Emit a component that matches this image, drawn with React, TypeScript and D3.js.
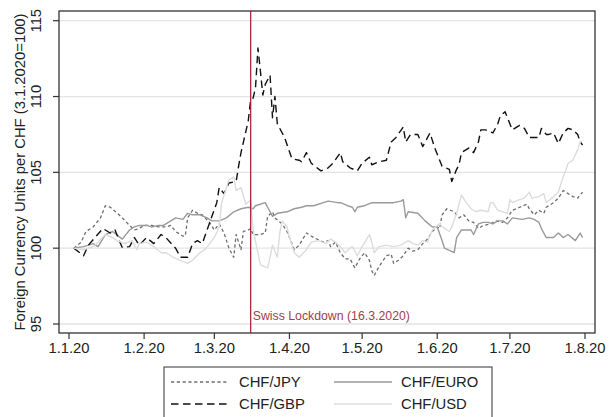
import React from "react";
import * as d3 from "d3";

// ---------- DATA ----------
const X_TICK_DATES = ["2020-01-01", "2020-02-01", "2020-03-01", "2020-04-01", "2020-05-01", "2020-06-01", "2020-07-01", "2020-08-01"];
const X_TICK_LABELS = ["1.1.20", "1.2.20", "1.3.20", "1.4.20", "1.5.20", "1.6.20", "1.7.20", "1.8.20"];
const Y_TICKS = [95, 100, 105, 110, 115];
const Y_TITLE = "Foreign Currency Units per CHF (3.1.2020=100)";
const LOCKDOWN_DATE = "2020-03-16";
const LOCKDOWN_LABEL = "Swiss Lockdown (16.3.2020)";

const CHF_JPY: [string, number][] = [
  ["2020-01-03", 100], ["2020-01-06", 100.4], ["2020-01-08", 101.1], ["2020-01-11", 101.4], ["2020-01-14", 102.0],
  ["2020-01-16", 102.8], ["2020-01-18", 102.7], ["2020-01-21", 102.3], ["2020-01-23", 102.0], ["2020-01-26", 101.5],
  ["2020-01-28", 101.2], ["2020-01-30", 101.3], ["2020-02-01", 101.5], ["2020-02-04", 101.5], ["2020-02-07", 101.4],
  ["2020-02-10", 101.4], ["2020-02-12", 101.5], ["2020-02-14", 101.1], ["2020-02-17", 100.8], ["2020-02-18", 100.8],
  ["2020-02-19", 102.0], ["2020-02-21", 102.5], ["2020-02-23", 102.3], ["2020-02-25", 102.2], ["2020-02-28", 101.7],
  ["2020-03-01", 101.2], ["2020-03-03", 101.6], ["2020-03-05", 101.0], ["2020-03-07", 100.0], ["2020-03-09", 99.4],
  ["2020-03-10", 100.9], ["2020-03-12", 99.9], ["2020-03-13", 101.1], ["2020-03-15", 101.2], ["2020-03-16", 101.3],
  ["2020-03-17", 100.9], ["2020-03-20", 100.9], ["2020-03-22", 101.0], ["2020-03-23", 102.1], ["2020-03-25", 102.4],
  ["2020-03-26", 102.0], ["2020-03-29", 101.6], ["2020-03-31", 101.1], ["2020-04-03", 99.9], ["2020-04-05", 100.2],
  ["2020-04-08", 101.0], ["2020-04-11", 100.7], ["2020-04-15", 100.4], ["2020-04-17", 100.5], ["2020-04-18", 100.1],
  ["2020-04-20", 100.4], ["2020-04-22", 99.7], ["2020-04-24", 99.3], ["2020-04-26", 99.3], ["2020-04-28", 98.7],
  ["2020-04-30", 99.3], ["2020-05-02", 99.7], ["2020-05-04", 99.2], ["2020-05-05", 98.5], ["2020-05-06", 98.2],
  ["2020-05-08", 98.8], ["2020-05-11", 99.5], ["2020-05-13", 99.6], ["2020-05-14", 99.0], ["2020-05-16", 99.2],
  ["2020-05-18", 99.5], ["2020-05-20", 100.0], ["2020-05-22", 99.8], ["2020-05-24", 99.9], ["2020-05-26", 100.3],
  ["2020-05-28", 100.6], ["2020-05-30", 101.1], ["2020-06-01", 101.4], ["2020-06-02", 101.3], ["2020-06-03", 102.2],
  ["2020-06-05", 102.6], ["2020-06-08", 102.4], ["2020-06-10", 102.0], ["2020-06-12", 102.2], ["2020-06-14", 101.8],
  ["2020-06-16", 101.7], ["2020-06-18", 101.3], ["2020-06-20", 101.5], ["2020-06-23", 101.6], ["2020-06-25", 101.8],
  ["2020-06-28", 101.7], ["2020-06-30", 102.0], ["2020-07-02", 102.5], ["2020-07-05", 102.7], ["2020-07-08", 102.9],
  ["2020-07-09", 102.6], ["2020-07-11", 102.2], ["2020-07-13", 102.5], ["2020-07-15", 102.3], ["2020-07-16", 102.7],
  ["2020-07-19", 103.0], ["2020-07-21", 103.3], ["2020-07-23", 103.8], ["2020-07-25", 103.6], ["2020-07-27", 103.4],
  ["2020-07-29", 103.3], ["2020-07-31", 103.7],
];

const CHF_EURO: [string, number][] = [
  ["2020-01-03", 100], ["2020-01-07", 100.1], ["2020-01-11", 100.3], ["2020-01-13", 100.1], ["2020-01-16", 100.9],
  ["2020-01-19", 101.1], ["2020-01-23", 100.6], ["2020-01-26", 101.2], ["2020-01-28", 101.4], ["2020-01-30", 101.5],
  ["2020-02-02", 101.5], ["2020-02-04", 101.4], ["2020-02-07", 101.5], ["2020-02-09", 101.5], ["2020-02-12", 101.8],
  ["2020-02-14", 102.0], ["2020-02-17", 101.9], ["2020-02-19", 102.3], ["2020-02-21", 102.2], ["2020-02-24", 102.2],
  ["2020-02-27", 102.0], ["2020-02-29", 101.8], ["2020-03-03", 101.8], ["2020-03-06", 102.0], ["2020-03-09", 102.4],
  ["2020-03-12", 102.6], ["2020-03-15", 102.7], ["2020-03-17", 102.6], ["2020-03-18", 102.8], ["2020-03-22", 103.0],
  ["2020-03-23", 102.7], ["2020-03-25", 102.1], ["2020-03-27", 102.3], ["2020-03-31", 102.4], ["2020-04-03", 102.6],
  ["2020-04-06", 102.7], ["2020-04-08", 102.8], ["2020-04-11", 102.8], ["2020-04-15", 103.0], ["2020-04-17", 103.1],
  ["2020-04-21", 103.0], ["2020-04-22", 103.0], ["2020-04-25", 102.8], ["2020-04-27", 102.7], ["2020-04-28", 102.4],
  ["2020-04-29", 102.7], ["2020-05-02", 102.8], ["2020-05-05", 103.0], ["2020-05-08", 103.0], ["2020-05-11", 103.0],
  ["2020-05-14", 103.0], ["2020-05-17", 103.1], ["2020-05-18", 103.2], ["2020-05-19", 102.0], ["2020-05-20", 102.4],
  ["2020-05-24", 102.3], ["2020-05-27", 101.8], ["2020-05-30", 101.4], ["2020-06-01", 101.4], ["2020-06-03", 100.5],
  ["2020-06-04", 100.0], ["2020-06-08", 99.7], ["2020-06-09", 100.7], ["2020-06-11", 101.2], ["2020-06-15", 101.2],
  ["2020-06-16", 100.9], ["2020-06-18", 101.6], ["2020-06-20", 101.7], ["2020-06-22", 101.7], ["2020-06-24", 101.6],
  ["2020-06-26", 101.8], ["2020-06-28", 101.8], ["2020-06-30", 101.6], ["2020-07-02", 102.0], ["2020-07-06", 101.9],
  ["2020-07-09", 102.0], ["2020-07-11", 101.9], ["2020-07-13", 101.7], ["2020-07-14", 101.3], ["2020-07-16", 100.7],
  ["2020-07-19", 100.7], ["2020-07-21", 101.0], ["2020-07-23", 100.7], ["2020-07-25", 100.9], ["2020-07-28", 100.5],
  ["2020-07-30", 101.0], ["2020-07-31", 100.7],
];

const CHF_GBP: [string, number][] = [
  ["2020-01-03", 100], ["2020-01-07", 99.5], ["2020-01-09", 100.2], ["2020-01-15", 101.3], ["2020-01-18", 101.0],
  ["2020-01-20", 101.2], ["2020-01-22", 100.4], ["2020-01-23", 100.05], ["2020-01-26", 100.1], ["2020-01-28", 100.7],
  ["2020-01-30", 100.2], ["2020-02-02", 100.7], ["2020-02-05", 100.3], ["2020-02-08", 100.9], ["2020-02-10", 100.7],
  ["2020-02-14", 100.0], ["2020-02-16", 99.4], ["2020-02-19", 99.4], ["2020-02-21", 100.3], ["2020-02-23", 100.5],
  ["2020-02-25", 100.3], ["2020-02-27", 101.2], ["2020-02-29", 102.1], ["2020-03-02", 103.0], ["2020-03-03", 104.0],
  ["2020-03-05", 103.6], ["2020-03-07", 104.3], ["2020-03-10", 104.4], ["2020-03-11", 105.4], ["2020-03-12", 106.3],
  ["2020-03-15", 108.4], ["2020-03-16", 109.8], ["2020-03-17", 109.9], ["2020-03-18", 110.6], ["2020-03-19", 113.2],
  ["2020-03-20", 111.7], ["2020-03-21", 110.1], ["2020-03-22", 110.8], ["2020-03-24", 111.4], ["2020-03-25", 108.6],
  ["2020-03-26", 110.0], ["2020-03-27", 108.2], ["2020-03-30", 107.3], ["2020-04-02", 105.9], ["2020-04-05", 105.8],
  ["2020-04-06", 105.7], ["2020-04-08", 106.3], ["2020-04-10", 105.6], ["2020-04-14", 105.1], ["2020-04-17", 105.3],
  ["2020-04-19", 105.6], ["2020-04-22", 106.3], ["2020-04-23", 105.7], ["2020-04-26", 105.3], ["2020-04-29", 105.1],
  ["2020-05-01", 105.6], ["2020-05-04", 106.0], ["2020-05-05", 105.5], ["2020-05-08", 105.7], ["2020-05-11", 105.8],
  ["2020-05-13", 107.0], ["2020-05-15", 107.3], ["2020-05-18", 108.0], ["2020-05-19", 107.0], ["2020-05-21", 107.5],
  ["2020-05-24", 107.5], ["2020-05-26", 106.7], ["2020-05-29", 107.6], ["2020-05-31", 106.6], ["2020-06-02", 105.8],
  ["2020-06-03", 105.4], ["2020-06-06", 105.2], ["2020-06-07", 104.4], ["2020-06-09", 105.2], ["2020-06-10", 105.5],
  ["2020-06-11", 106.3], ["2020-06-14", 106.6], ["2020-06-16", 106.3], ["2020-06-18", 107.0], ["2020-06-19", 107.8],
  ["2020-06-21", 107.8], ["2020-06-24", 107.6], ["2020-06-26", 108.2], ["2020-06-27", 108.7], ["2020-06-29", 109.0],
  ["2020-06-30", 108.6], ["2020-07-02", 107.8], ["2020-07-05", 108.1], ["2020-07-07", 107.9], ["2020-07-09", 107.3],
  ["2020-07-11", 107.3], ["2020-07-13", 107.3], ["2020-07-14", 107.9], ["2020-07-16", 107.5], ["2020-07-17", 107.5],
  ["2020-07-19", 107.6], ["2020-07-21", 106.9], ["2020-07-23", 107.6], ["2020-07-25", 107.9], ["2020-07-27", 107.8],
  ["2020-07-29", 107.5], ["2020-07-30", 107.0], ["2020-07-31", 106.8],
];

const CHF_USD: [string, number][] = [
  ["2020-01-03", 100], ["2020-01-07", 99.9], ["2020-01-11", 100.1], ["2020-01-13", 100.4], ["2020-01-16", 100.9],
  ["2020-01-19", 100.7], ["2020-01-21", 100.5], ["2020-01-24", 100.3], ["2020-01-27", 100.5], ["2020-01-29", 99.9],
  ["2020-01-30", 100.3], ["2020-02-02", 100.4], ["2020-02-05", 100.1], ["2020-02-08", 99.7], ["2020-02-10", 99.7],
  ["2020-02-13", 99.4], ["2020-02-16", 99.2], ["2020-02-19", 99.0], ["2020-02-21", 99.2], ["2020-02-24", 99.7],
  ["2020-02-26", 99.9], ["2020-02-28", 100.3], ["2020-03-01", 100.7], ["2020-03-03", 101.4], ["2020-03-04", 103.0],
  ["2020-03-06", 104.0], ["2020-03-07", 104.5], ["2020-03-09", 104.7], ["2020-03-10", 103.8], ["2020-03-12", 104.0],
  ["2020-03-14", 102.9], ["2020-03-16", 103.2], ["2020-03-17", 101.2], ["2020-03-20", 98.9], ["2020-03-23", 98.7],
  ["2020-03-24", 99.4], ["2020-03-25", 100.2], ["2020-03-27", 99.4], ["2020-03-28", 101.0], ["2020-03-29", 101.8],
  ["2020-03-31", 101.4], ["2020-04-01", 100.7], ["2020-04-03", 99.7], ["2020-04-05", 99.4], ["2020-04-08", 99.9],
  ["2020-04-10", 100.4], ["2020-04-13", 100.5], ["2020-04-16", 100.3], ["2020-04-18", 100.6], ["2020-04-20", 100.4],
  ["2020-04-22", 100.1], ["2020-04-24", 99.7], ["2020-04-26", 100.0], ["2020-04-27", 100.1], ["2020-04-29", 99.5],
  ["2020-05-01", 100.1], ["2020-05-04", 100.9], ["2020-05-05", 100.4], ["2020-05-06", 99.7], ["2020-05-08", 100.1],
  ["2020-05-11", 100.2], ["2020-05-14", 100.1], ["2020-05-17", 100.2], ["2020-05-20", 100.5], ["2020-05-22", 100.3],
  ["2020-05-24", 100.2], ["2020-05-26", 100.5], ["2020-05-28", 100.4], ["2020-05-30", 101.2], ["2020-06-01", 101.5],
  ["2020-06-02", 101.6], ["2020-06-04", 101.3], ["2020-06-06", 101.1], ["2020-06-07", 101.4], ["2020-06-09", 102.3],
  ["2020-06-11", 103.5], ["2020-06-13", 103.0], ["2020-06-15", 102.6], ["2020-06-17", 102.4], ["2020-06-19", 102.5],
  ["2020-06-22", 102.4], ["2020-06-23", 103.0], ["2020-06-24", 103.0], ["2020-06-26", 102.5], ["2020-06-28", 102.4],
  ["2020-06-30", 102.3], ["2020-07-01", 103.2], ["2020-07-02", 103.0], ["2020-07-05", 103.2], ["2020-07-07", 103.3],
  ["2020-07-09", 103.7], ["2020-07-10", 103.3], ["2020-07-13", 103.4], ["2020-07-15", 103.6], ["2020-07-16", 103.0],
  ["2020-07-19", 103.4], ["2020-07-21", 103.7], ["2020-07-23", 104.7], ["2020-07-24", 105.1], ["2020-07-25", 105.6],
  ["2020-07-27", 105.8], ["2020-07-29", 106.5], ["2020-07-30", 107.0], ["2020-07-31", 107.1],
];

const SERIES_NAMES = ["CHF/JPY", "CHF/EURO", "CHF/GBP", "CHF/USD"];
const SERIES_DATA = [CHF_JPY, CHF_EURO, CHF_GBP, CHF_USD];

// ---------- STYLES / LAYOUT ----------
const W = 613;
const H = 417;
const FRAME = { left: 59, right: 595, top: 11, bottom: 333 };
const FONT = "'Liberation Sans', Arial, Helvetica, sans-serif";
const SERIES_STYLES = [
  { stroke: "#6e6e6e", dash: "3.2 2.6", width: 1.3 },
  { stroke: "#9a9a9a", dash: "", width: 1.4 },
  { stroke: "#111111", dash: "7.5 4.5", width: 1.4 },
  { stroke: "#dcdcdc", dash: "", width: 1.4 },
];
const LOCK_COLOR = "#9e1b2b";

const parse = d3.timeParse("%Y-%m-%d");

export default function App() {
  const x = d3
    .scaleTime()
    .domain([parse(X_TICK_DATES[0]) as Date, parse(X_TICK_DATES[X_TICK_DATES.length - 1]) as Date])
    .range([69, 585]);
  const y = d3.scaleLinear().domain([95, 115]).range([324, 20.7]);

  const line = d3
    .line<[string, number]>()
    .x((d) => x(parse(d[0]) as Date))
    .y((d) => y(d[1]));

  const lockX = x(parse(LOCKDOWN_DATE) as Date);

  const legendRows = [
    [0, 1],
    [2, 3],
  ];
  const legend = { left: 164, top: 367, right: 492 };
  const rowY = [382, 404];
  const colSample = [
    [171, 228],
    [334, 392],
  ];
  const colText = [239, 401];

  return (
    <svg
      width={W}
      height={H}
      viewBox={`0 0 ${W} ${H}`}
      style={{ position: "absolute", left: 0, top: 0, background: "#fff" }}
    >
      <rect x={0} y={0} width={W} height={H} fill="#fff" />
      {/* grid */}
      {Y_TICKS.map((t) => (
        <line key={"g" + t} x1={FRAME.left} x2={FRAME.right} y1={y(t)} y2={y(t)} stroke="#e3e3e3" strokeWidth={1.3} />
      ))}
      {/* series */}
      {SERIES_DATA.map((s, i) => (
        <path
          key={SERIES_NAMES[i]}
          d={line(s) || ""}
          fill="none"
          stroke={SERIES_STYLES[i].stroke}
          strokeWidth={SERIES_STYLES[i].width}
          strokeDasharray={SERIES_STYLES[i].dash || undefined}
          strokeLinejoin="round"
        />
      ))}
      {/* lockdown line */}
      <line x1={lockX} x2={lockX} y1={FRAME.top} y2={FRAME.bottom} stroke={LOCK_COLOR} strokeWidth={1.2} />
      <text x={lockX + 2} y={320} fontFamily={FONT} fontSize={12.3} fill="#a0404c">
        {LOCKDOWN_LABEL}
      </text>
      {/* frame */}
      <rect
        x={FRAME.left}
        y={FRAME.top}
        width={FRAME.right - FRAME.left}
        height={FRAME.bottom - FRAME.top}
        fill="none"
        stroke="#333"
        strokeWidth={1.3}
      />
      {/* y axis ticks */}
      {Y_TICKS.map((t) => (
        <g key={"y" + t}>
          <line x1={FRAME.left - 6} x2={FRAME.left} y1={y(t)} y2={y(t)} stroke="#333" strokeWidth={1.2} />
          <text
            transform={`translate(${41},${y(t)}) rotate(-90)`}
            textAnchor="middle"
            fontFamily={FONT}
            fontSize={14.8}
            fill="#222"
          >
            {t}
          </text>
        </g>
      ))}
      <text
        transform={`translate(${25},${(FRAME.top + FRAME.bottom) / 2}) rotate(-90)`}
        textAnchor="middle"
        fontFamily={FONT}
        fontSize={14.8}
        fill="#222"
      >
        {Y_TITLE}
      </text>
      {/* x axis ticks */}
      {X_TICK_DATES.map((d, i) => {
        const px = x(parse(d) as Date);
        return (
          <g key={"x" + d}>
            <line x1={px} x2={px} y1={FRAME.bottom} y2={FRAME.bottom + 6} stroke="#333" strokeWidth={1.2} />
            <text x={px} y={353} textAnchor="middle" fontFamily={FONT} fontSize={14.8} fill="#222">
              {X_TICK_LABELS[i]}
            </text>
          </g>
        );
      })}
      {/* legend */}
      <rect
        x={legend.left}
        y={legend.top}
        width={legend.right - legend.left}
        height={70}
        fill="#fff"
        stroke="#333"
        strokeWidth={1}
      />
      {legendRows.map((row, r) =>
        row.map((si, c) => (
          <g key={"lg" + si}>
            <line
              x1={colSample[c][0]}
              x2={colSample[c][1]}
              y1={rowY[r]}
              y2={rowY[r]}
              stroke={SERIES_STYLES[si].stroke}
              strokeWidth={SERIES_STYLES[si].width}
              strokeDasharray={SERIES_STYLES[si].dash || undefined}
            />
            <text x={colText[c]} y={rowY[r] + 5.2} fontFamily={FONT} fontSize={14.8} fill="#222">
              {SERIES_NAMES[si]}
            </text>
          </g>
        ))
      )}
    </svg>
  );
}
